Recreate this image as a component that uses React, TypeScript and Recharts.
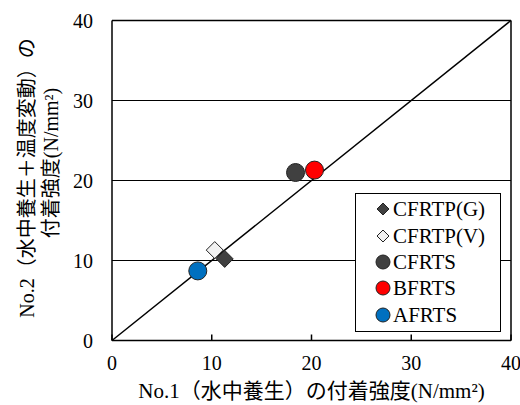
import { ScatterChart, Scatter, XAxis, YAxis, CartesianGrid, ReferenceLine, Legend } from 'recharts'

const seriesNames = ['CFRTP(G)', 'CFRTP(V)', 'CFRTS', 'BFRTS', 'AFRTS']
const xValues = [11.3, 10.3, 18.4, 20.3, 8.6]
const yValues = [10.2, 11.3, 21.0, 21.3, 8.7]
const fills = ['#404040', '#f2f2f2', '#404040', '#ff0000', '#0070c0']
const markers = ['diamond', 'diamond', 'circle', 'circle', 'circle']
const axisTicks = [0, 10, 20, 30, 40]

const FONT = '"Liberation Serif", "Times New Roman", "Noto Sans CJK JP", serif'

function Marker({ kind, fill, cx, cy, r }: { kind: string; fill: string; cx: number; cy: number; r: number }) {
  if (kind === 'diamond') {
    return (
      <polygon
        points={`${cx},${cy - r} ${cx + r},${cy} ${cx},${cy + r} ${cx - r},${cy}`}
        fill={fill}
        stroke="#222"
        strokeWidth={1}
      />
    )
  }
  return <circle cx={cx} cy={cy} r={r} fill={fill} stroke="#222" strokeWidth={1} />
}

function LegendBox() {
  return (
    <div
      style={{
        border: '1px solid #000',
        background: '#fff',
        width: 146,
        height: 139,
        boxSizing: 'border-box',
        paddingTop: 2,
        fontFamily: FONT,
        fontSize: 21,
        color: '#000',
      }}
    >
      {seriesNames.map((name, i) => (
        <div key={name} style={{ display: 'flex', alignItems: 'center', height: 26.4 }}>
          <svg width={37} height={20} style={{ flex: 'none' }}>
            <Marker
              kind={markers[i]}
              fill={fills[i]}
              cx={27}
              cy={10}
              r={markers[i] === 'diamond' ? 6 : 7}
            />
          </svg>
          <span style={{ lineHeight: '20px' }}>{name}</span>
        </div>
      ))}
    </div>
  )
}

export default function App() {
  return (
    <div style={{ position: 'absolute', left: 0, top: 0, background: '#fff' }}>
      <ScatterChart width={520} height={405} margin={{ top: 20.5, right: 9, bottom: 0, left: 0 }}>
        <CartesianGrid vertical={false} stroke="#000" strokeWidth={1} horizontalValues={[10, 20, 30, 40]} />
        <XAxis
          type="number"
          dataKey="x"
          domain={[0, 40]}
          ticks={axisTicks}
          height={64.5}
          stroke="#000"
          strokeWidth={1.5}
          tickSize={-6}
          tickMargin={0}
          tick={(p: any) => (
            <text x={p.x} y={p.y + 35} textAnchor="middle" fontFamily={FONT} fontSize={20} fill="#000">
              {p.payload.value}
            </text>
          )}
          label={{
            content: (p: any) => (
              <text
                x={p.viewBox.x + p.viewBox.width / 2}
                y={398}
                textAnchor="middle"
                fontFamily={FONT}
                fontSize={21}
                fill="#000"
              >
                No.1（水中養生）の付着強度(N/mm²)
              </text>
            ),
          }}
        />
        <YAxis
          type="number"
          dataKey="y"
          domain={[0, 40]}
          ticks={axisTicks}
          width={112}
          stroke="#000"
          strokeWidth={1.5}
          tickLine={false}
          tick={(p: any) => (
            <text x={93} y={p.y + 7} textAnchor="end" fontFamily={FONT} fontSize={20} fill="#000">
              {p.payload.value}
            </text>
          )}
          label={{
            content: () => (
              <g fontFamily={FONT} fontSize={20} fill="#000">
                <text x={27} y={178} transform="rotate(-90, 27, 178)" textAnchor="middle" dominantBaseline="central">
                  No.2（水中養生＋温度変動）の
                </text>
                <text x={51} y={163} transform="rotate(-90, 51, 163)" textAnchor="middle" dominantBaseline="central">
                  付着強度(N/mm²)
                </text>
              </g>
            ),
          }}
        />
        <ReferenceLine x={40} stroke="#000" strokeWidth={1.5} />
        <ReferenceLine y={40} stroke="#000" strokeWidth={1.5} />
        <ReferenceLine
          segment={[
            { x: 0, y: 0 },
            { x: 40, y: 40 },
          ]}
          stroke="#000"
          strokeWidth={1.5}
        />
        <Legend
          layout="vertical"
          align="center"
          verticalAlign="middle"
          wrapperStyle={{ left: 355, top: 193, width: 146 }}
          content={() => <LegendBox />}
        />
        {seriesNames.map((name, i) => (
          <Scatter
            key={name}
            name={name}
            data={[{ x: xValues[i], y: yValues[i] }]}
            isAnimationActive={false}
            shape={(p: any) => (
              <Marker kind={markers[i]} fill={fills[i]} cx={p.cx} cy={p.cy} r={markers[i] === 'diamond' ? 8.5 : 9} />
            )}
          />
        ))}
      </ScatterChart>
    </div>
  )
}
